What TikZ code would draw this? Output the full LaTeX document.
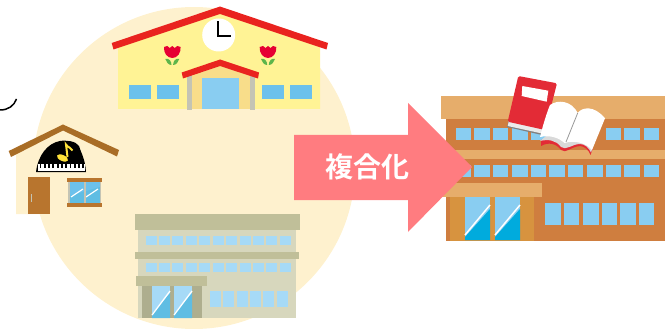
\documentclass[tikz,border=0pt]{standalone}
\usepackage{fontspec}
\newfontfamily\cjkbold{Noto Sans CJK JP Bold}
\definecolor{cream}{HTML}{FEF1CE}
\definecolor{wallyellow}{HTML}{FFF395}
\definecolor{roofred}{HTML}{E9231F}
\definecolor{porch}{HTML}{F8DD8A}
\definecolor{pillargray}{HTML}{C4C4B4}
\definecolor{glassblue}{HTML}{6CC1EC}
\definecolor{doorblue}{HTML}{89CDF1}
\definecolor{woodbrown}{HTML}{B8752E}
\definecolor{roofbrown}{HTML}{A96D26}
\definecolor{khakiroof}{HTML}{C0BF99}
\definecolor{khakiwall}{HTML}{D7D7BD}
\definecolor{khakipillar}{HTML}{AEAE8E}
\definecolor{paleblue}{HTML}{A6DAF7}
\definecolor{paledoor}{HTML}{5FBDE3}
\definecolor{orangeroof}{HTML}{E6AD6B}
\definecolor{orangewall}{HTML}{CF7E3F}
\definecolor{orangepillar}{HTML}{D7933F}
\definecolor{cyandoor}{HTML}{00ABDD}
\definecolor{arrowpink}{HTML}{FF7C80}
\definecolor{bookred}{HTML}{E32B36}
\definecolor{leafgreen}{HTML}{5DB54A}
\definecolor{petalred}{HTML}{E60033}
\definecolor{noteyellow}{HTML}{FFE23A}
\tikzset{
  paint/.style={fill=#1,draw=none},
  tulip/.pic={
    \fill[leafgreen] (-7,6) .. controls (-3,5) and (-1,8) .. (-0.8,12) .. controls (-4,12) and (-6,9) .. cycle;
    \fill[leafgreen] (7,6) .. controls (3,5) and (1,8) .. (0.8,12) .. controls (4,12) and (6,9) .. cycle;
    \fill[petalred] (-8.3,-6) -- (-5,-7) -- (-2.5,-5) -- (0,-7) -- (2.5,-5) -- (5,-7) -- (8.3,-6)
      .. controls (8.8,0) and (5,5) .. (0,5) .. controls (-5,5) and (-8.8,0) .. cycle;
  }
}
\newcommand{\winrow}[4]{% colour, top, bottom, list of left/right pairs
  \foreach \xa/\xb in {#4} \fill[#1] (\xa,#2) rectangle (\xb,#3);}
\begin{document}
\begin{tikzpicture}[x=1pt,y=-1pt]
\useasboundingbox (0,0) rectangle (665,329);
% backdrop disc
\begin{scope}
  \clip (0,0) rectangle (665,329);
  \fill[cream] (194,168) circle[radius=161];
\end{scope}
% stray curve at the left edge
\draw[black,line width=1.5pt] (0,110) .. controls (8,110) and (14,106) .. (16.5,99);

% kindergarten
\fill[wallyellow] (118,47) -- (220,10) -- (320,47) -- (320,109) -- (118,109) -- cycle;
\fill[roofred] (111.7,43) -- (220,6.5) -- (328,43) -- (326.5,49.5) -- (220,14) -- (113.5,49.5) -- cycle;
\fill[white] (218.7,35) circle[radius=16.5];
\draw[black,line width=1.8pt] (218,21.5) -- (218,36) -- (231,36);
\pic at (172.3,53) {tulip};
\pic at (268,53) {tulip};
\fill[porch] (192,76) -- (220,65) -- (250,76) -- (250,109) -- (192,109) -- cycle;
\fill[pillargray] (187,75) rectangle (192,110);
\fill[pillargray] (250,75) rectangle (255,110);
\fill[doorblue] (202,78) rectangle (239,109);
\fill[roofred] (181.7,72.5) -- (220,59.5) -- (259,72.5) -- (258,78.5) -- (220,66) -- (183,78.5) -- cycle;
\winrow{glassblue}{85}{99}{129/151,157/179,262/284,290/312}

% music room
\fill[cream] (16,150) -- (63,128) -- (112,150) -- (112,214) -- (16,214) -- cycle;
\fill[roofbrown] (8.7,151) -- (63,124.5) -- (119,150) -- (117,156.5) -- (63,130.5) -- (11,157) -- cycle;
\fill[black] (36,172) .. controls (38,155) and (48,143) .. (60,141)
  .. controls (66,140) and (76,141) .. (79,146) .. controls (81,153) and (85,158) .. (86,172) -- cycle;
\fill[white] (37.5,164) rectangle (85,170.5);
\foreach \kx in {40.5,44.8,49,53.3,57.6,61.9,66.2,70.5,74.8,79,83} \fill[black] (\kx-0.9,164) rectangle (\kx+0.9,168);
\fill[noteyellow] (62.5,158) ellipse[x radius=6,y radius=3,rotate=-25];
\draw[noteyellow,line width=2pt] (67.5,157) -- (66,144.5) .. controls (68,148) and (71,147) .. (72.5,150.5);
\fill[woodbrown] (28,177) rectangle (50,214);
\fill[pillargray] (30.5,194) rectangle (31.8,202);
\fill[glassblue] (69,182) rectangle (100,203);
\fill[paledoor] (69,196) -- (100,187) -- (100,203) -- (69,203) -- cycle;
\draw[white,line width=1.2pt] (71,197) -- (83,189);
\draw[white,line width=1.2pt] (86,197) -- (98,189);
\fill[pillargray] (83.5,182) rectangle (85.5,203);
\fill[pillargray] (68,182) rectangle (69.5,203);
\fill[pillargray] (99.5,182) rectangle (101,203);
\fill[woodbrown] (67,178) rectangle (102,182);
\fill[woodbrown] (67,203) rectangle (102,207);

% old school block
\fill[khakiwall] (138,230) rectangle (296,318);
\fill[khakiroof] (135,214) rectangle (300,230);
\fill[khakiroof] (135,252) rectangle (299,259);
\winrow{paleblue}{236.3}{245}{146/157,159/170,172/183,186/197,199/210,213/224,226/237,240/251,253/264,266/277,280/291}
\winrow{paleblue}{263}{272}{146/157,159/170,172/183,186/197,199/210,213/224,226/237,240/251,253/264,266/277,280/291}
\winrow{paleblue}{291}{307}{210/221,223/234,237/248,250/261,263/274,277/288}
\fill[khakipillar] (142,286) rectangle (202,318);
\foreach \dx in {152,174}{
  \fill[paleblue] (\dx,286) rectangle (\dx+18,318);
  \fill[paledoor] (\dx,318) -- (\dx,314) -- (\dx+18,293) -- (\dx+18,318) -- cycle;
  \draw[white,line width=1.3pt] (\dx,315) -- (\dx+18,291);
}
\fill[khakiroof] (136,276) rectangle (207,286);

% new combined building
\fill[orangewall] (446,119) rectangle (665,241);
\fill[orangeroof] (441,96) rectangle (665,119);
\fill[orangeroof] (441,150) rectangle (665,159);
\winrow{doorblue}{128}{140}{456/471,474/490,493/508,512/528,531/546,550/565,568/583,606/621,624/640,644/659}
\winrow{doorblue}{165}{177}{456/471,474/490,493/508,512/528,531/546,549/565,568/583,587/603,606/621,624/640,644/659}
\winrow{doorblue}{203}{225}{545/561,564/579,583/599,602/617,620/636,639/654}
\fill[orangepillar] (450,197) rectangle (534,241);
\foreach \dx in {465,495}{
  \fill[doorblue] (\dx,197) rectangle (\dx+25,240);
  \fill[cyandoor] (\dx,240) -- (\dx,237) -- (\dx+25,209) -- (\dx+25,240) -- cycle;
  \draw[white,line width=1.5pt] (\dx,235) -- (\dx+25,205);
}
\fill[orangeroof] (441,183) rectangle (542,197);

% closed red book
\fill[gray] (507,127) -- (542,135) -- (546,125) -- (510,116) -- cycle;
\fill[white!92!black] (507.7,126) -- (542,133.5) -- (546,122) -- (510,116) -- cycle;
\fill[bookred,rounded corners=1.5pt] (518.3,76) -- (557,83.3) -- (545,130) -- (507.7,121.7) -- cycle;
\fill[white] (522.3,86) -- (548.3,90.7) -- (546.7,101.7) -- (521.7,96) -- cycle;

% open book
\fill[bookred] (541,146) .. controls (548,142) and (556,143) .. (561,150)
  .. controls (566,154) and (570,147) .. (580,146) .. controls (584,146) and (589,150) .. (590.5,155)
  -- (593,148) -- (560,135) -- (541,140) -- cycle;
\fill[white!85!black] (540,141) .. controls (548,139) and (556,140) .. (561,147)
  .. controls (566,151) and (572,144) .. (580,144) .. controls (585,144) and (589,148) .. (591,152.5)
  -- (596,138) -- (560,125) -- cycle;
\fill[white] (540,137) .. controls (543,125) and (547,112) .. (550,105)
  .. controls (558,99) and (572,101) .. (577.7,113)
  .. controls (582,107) and (594,105) .. (605,118.3)
  -- (592,150) .. controls (586,143) and (575,140) .. (564.5,143)
  .. controls (558,137) and (549,135) .. (540,137) -- cycle;
\draw[gray!80,line width=0.8pt] (577.7,113) -- (566,142);

% merge arrow
\fill[arrowpink] (294,135) -- (408,135) -- (408,103) -- (472,167) -- (408,232) -- (408,200) -- (294,200) -- cycle;
\node[text=white,font=\cjkbold\fontsize{28}{30}\selectfont,inner sep=0pt] (mergelabel) at (367,167) {複合化};
\end{tikzpicture}
\end{document}
